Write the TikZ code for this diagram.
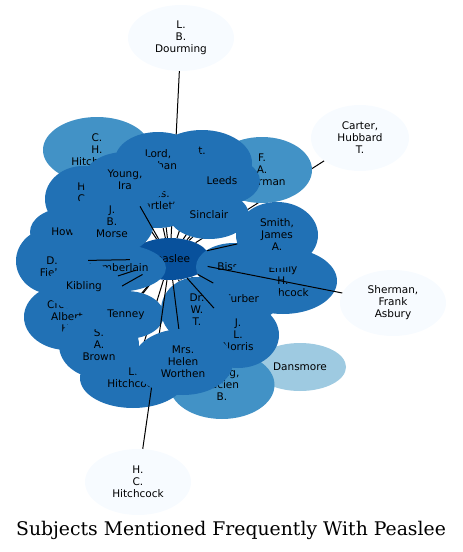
\documentclass[tikz,border=0pt]{standalone}
\usepackage{fontspec}
\usepackage{xcolor}
\usepackage{tikz}
\usetikzlibrary{shapes.geometric,backgrounds}
\newfontfamily\labfont{DejaVu Sans}
\newfontfamily\titlefont{DejaVu Serif}
\definecolor{paleblue}{HTML}{F7FBFF}
\definecolor{lightblue}{HTML}{9ECAE1}
\definecolor{midblue}{HTML}{4292C6}
\definecolor{blobblue}{HTML}{2171B5}
\definecolor{deepblue}{HTML}{08519C}

\begin{document}
\begin{tikzpicture}[x=1pt, y=-1pt,
    subj/.style={ellipse, inner sep=0pt, align=center, fill=blobblue,
        font=\labfont\fontsize{10.5}{12}\selectfont},
    farsubj/.style={subj, fill=paleblue, minimum width=106, minimum height=66},
    oneline/.style={minimum height=48},
    twoline/.style={minimum height=56},
    threeline/.style={minimum height=66},
    spoke/.style={line width=1pt}
]
    \useasboundingbox (0,0) rectangle (463,552);
    % outer ring
    \node[farsubj] (dourming) at (181,38) {L.\\B.\\Dourming};
    \node[farsubj, minimum width=98] (carter) at (360,138) {Carter,\\Hubbard\\T.};
    \node[farsubj] (shermanfa) at (393,303) {Sherman,\\Frank\\Asbury};
    \node[farsubj] (hchitchcock) at (138,482) {H.\\C.\\Hitchcock};
    \node[subj, oneline, minimum width=92, fill=lightblue] (dansmore) at (300,367) {Dansmore};
    % cluster, back to front
    \node[subj, threeline, minimum width=108, fill=midblue] (chhitchcock) at (97,150) {C.\\H.\\Hitchcock};
    \node[subj, threeline, minimum width=100, fill=midblue] (fasherman) at (262,170) {F.\\A.\\Sherman};
    \node[subj, threeline, minimum width=100] (lordb) at (202,163) {t.\\\phantom{X}\\\phantom{X}};
    \node[subj, oneline, minimum width=76] (leeds) at (222,181) {Leeds};
    \node[subj, twoline, minimum width=86] (lord) at (158,160) {Lord,\\Nathan};
    \node[subj, threeline, minimum width=76] (hc) at (83,199) {H.\\C.\\\phantom{X}};
    \node[subj, twoline, minimum width=86] (bartlett) at (157,200) {Pres.\\Bartlett};
    \node[subj, twoline, minimum width=84] (youngira) at (125,180) {Young,\\Ira};
    \node[subj, oneline, minimum width=80] (sinclair) at (209,215) {Sinclair};
    \node[subj, minimum width=80, minimum height=42, fill=deepblue] (peaslee) at (170,259) {Peaslee};
    \node[subj, oneline, minimum width=76] (bissell) at (234,267) {Bissell};
    \node[subj, threeline, minimum width=108] (emily) at (283,281) {Emily\\H.\\Hitchcock};
    \node[subj, threeline, minimum width=82] (smith) at (277,235) {Smith,\\James\\A.};
    \node[subj, oneline, minimum width=76] (furber) at (242,299) {Furber};
    \node[subj, minimum width=105, minimum height=68, fill=midblue] (younglucien) at (222,385) {Young,\\Lucien\\B.};
    \node[subj, threeline, minimum width=82] (norris) at (238,335) {J.\\L.\\Norris};
    \node[subj, threeline, minimum width=72] (drwt) at (197,310) {Dr.\\W.\\T.};
    \node[subj, threeline, minimum width=72] (dfield) at (52,261) {\phantom{X}\\D.\\Field};
    \node[subj, oneline, minimum width=72] (howe) at (66,232) {Howe};
    \node[subj, threeline, minimum width=84] (morse) at (112,222) {J.\\B.\\Morse};
    \node[subj, oneline, minimum width=102] (chamberlain) at (115,268) {Chamberlain};
    \node[subj, threeline, minimum width=86] (albert) at (67,317) {Crosby,\\Albert\\H.};
    \draw[spoke] (peaslee) -- (albert);
    \node[subj, oneline, minimum width=76] (kibling) at (84,287) {Kibling};
    \node[subj, minimum width=106, minimum height=60] (lhitchcock) at (133,378) {L.\\Hitchcock};
    \node[subj, threeline, minimum width=80] (brown) at (99,345) {S.\\A.\\Brown};
    \node[subj, oneline, minimum width=76] (tenney) at (126,315) {Tenney};
    \draw[spoke] (peaslee) -- (hchitchcock);
    \node[subj, threeline, minimum width=100] (worthen) at (183,362) {Mrs.\\Helen\\Worthen};
    % spokes hidden behind the cluster
    \begin{scope}[on background layer]
        \draw[spoke] (peaslee) -- (dourming);
        \draw[spoke] (peaslee) -- (carter);
        \draw[spoke] (peaslee) -- (dansmore);
        \draw[spoke] (peaslee) -- (chhitchcock);
        \draw[spoke] (peaslee) -- (fasherman);
        \draw[spoke] (peaslee) -- (lordb);
        \draw[spoke] (peaslee) -- (lord);
        \draw[spoke] (peaslee) -- (hc);
        \draw[spoke] (peaslee) -- (bartlett);
        \draw[spoke] (peaslee) -- (leeds);
        \draw[spoke] (peaslee) -- (sinclair);
        \draw[spoke] (peaslee) -- (howe);
        \draw[spoke] (peaslee) -- (morse);
        \draw[spoke] (peaslee) -- (tenney);
        \draw[spoke] (peaslee) -- (brown);
        \draw[spoke] (peaslee) -- (lhitchcock);
        \draw[spoke] (peaslee) -- (drwt);
        \draw[spoke] (peaslee) -- (younglucien);
        \draw[spoke] (peaslee) -- (bissell);
        \draw[spoke] (peaslee) -- (emily);
    \end{scope}
    % spokes on top
    \draw[spoke] (peaslee) -- (dfield);
    \draw[spoke] (peaslee) -- (kibling);
    \draw[spoke] (peaslee) -- (youngira);
    \draw[spoke] (peaslee) -- (smith);
    \draw[spoke] (peaslee) -- (shermanfa);
    \draw[spoke] (peaslee) -- (worthen);
    \draw[spoke] (peaslee) -- (norris);
    \draw[spoke] (peaslee) -- (furber);
    \node[font=\titlefont\fontsize{18.8}{22}\selectfont] (title) at (231,530) {Subjects Mentioned Frequently With Peaslee};
\end{tikzpicture}
\end{document}
